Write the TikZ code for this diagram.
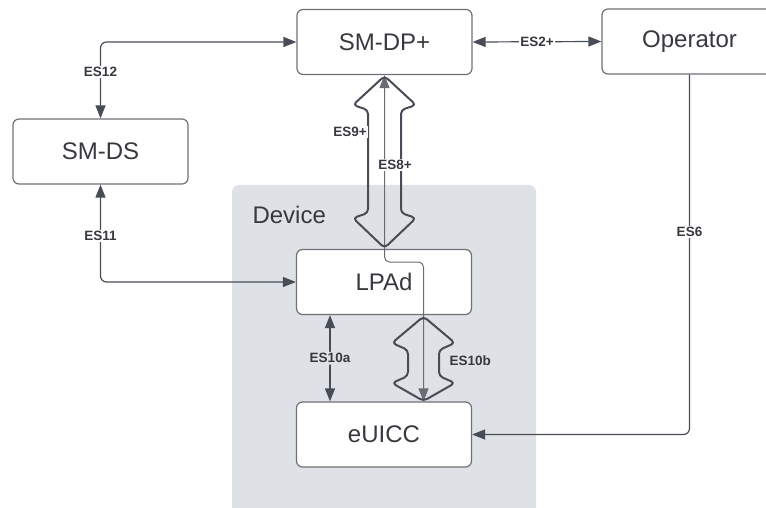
\documentclass[tikz,border=0pt]{standalone}
\usepackage{fontspec}
\setmainfont{Liberation Sans}
\usetikzlibrary{arrows.meta}
\definecolor{devgray}{RGB}{222,225,230}
\definecolor{linec}{RGB}{72,76,86}
\definecolor{thinc}{RGB}{105,108,114}
\definecolor{boxline}{RGB}{110,113,118}
\definecolor{txt}{RGB}{55,57,62}
\begin{document}
\begin{tikzpicture}[x=1pt,y=-1pt,
 >={Triangle[length=13pt,width=10pt]},
 box/.style={draw=boxline, fill=white, rounded corners=6pt, line width=1.2pt,
   minimum width=175pt, minimum height=65pt, font=\fontsize{24}{28}\selectfont,
   text=txt, inner sep=0pt},
 conn/.style={draw=linec, line width=1.2pt, rounded corners=6pt},
 lbl/.style={font=\fontsize{13.5}{16}\selectfont\bfseries, text=txt, fill=white, inner sep=1.5pt},
 glbl/.style={lbl, fill=devgray},
 fat/.style={draw=linec, line width=2pt, rounded corners=4pt, line join=round}
]
\useasboundingbox (0,0) rectangle (766,508);
% device area
\fill[devgray, rounded corners=7pt] (232,185) rectangle (536,530);
\node[font=\fontsize{24}{28}\selectfont, text=txt, anchor=west] (dev) at (249,215) {Device};

% boxes
\node[box] (smdp) at (384.5,42) {SM-DP+};
\node[box] (op) at (689.5,41.5) {Operator};
\node[box] (smds) at (100.5,151.5) {SM-DS};
\node[box] (lpad) at (384,282) {LPAd};
\node[box] (euicc) at (384,434.5) {eUICC};

% connectors
\draw[conn,<->] (smds.north) |- (smdp.west);
\draw[conn,<->] (smds.south) |- (lpad.west);
\draw[conn,<->] (smdp.east) -- (op.west) node[lbl, midway] (l2) {ES2+};
\draw[conn,->] (op.south) |- (euicc.east);
\draw[conn,<->] ([xshift=-54pt]lpad.south) -- ([xshift=-54pt]euicc.north)
  node[glbl, midway] (l10a) {ES10a};
\node[lbl] (l12) at (100.5,72) {ES12};
\node[lbl] (l11) at (100.5,236) {ES11};
\node[lbl] (l6) at (689.5,232) {ES6};

% ES8+ thin line
\coordinate (b1) at (384.5,262);
\coordinate (b2) at (423.5,262);
\draw[draw=thinc, line width=1pt, rounded corners=5pt, <->]
  (smdp.south) -- (b1) -- (b2) -- (b2 |- euicc.north);

% ES9+ fat double arrow
\draw[fat] (384.5,76) -- (416,105) -- (401,110) -- (401,213) -- (416,218)
  -- (384.5,248) -- (353,218) -- (368,213) -- (368,110) -- (353,105) -- cycle;
% ES10b fat double arrow
\draw[fat] (423.5,316.5) -- (455,343) -- (439,350) -- (439,376) -- (455,383)
  -- (423.5,401) -- (392,383) -- (408,376) -- (408,350) -- (392,343) -- cycle;

% labels of fat arrows
\node[lbl] (l9) at (350,132) {ES9+};
\node[lbl] (l8) at (395,165) {ES8+};
\node[glbl, anchor=west] (l10b) at (448,361) {ES10b};
\end{tikzpicture}
\end{document}
